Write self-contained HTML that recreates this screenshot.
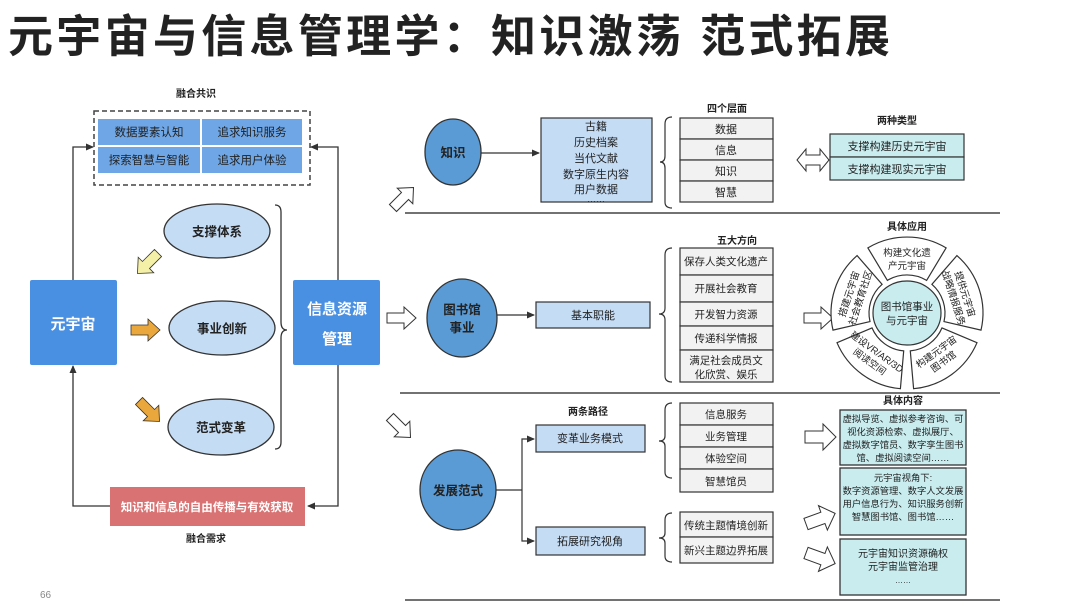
<!DOCTYPE html>
<html><head><meta charset="utf-8">
<style>
html,body{margin:0;padding:0;background:#fff;}
svg{display:block;}
text{font-family:"Liberation Sans","Noto Sans CJK SC",sans-serif;fill:#222;}
.b{font-weight:bold;}
</style></head>
<body>
<svg width="1080" height="607" viewBox="0 0 1080 607" xmlns="http://www.w3.org/2000/svg">
<defs>
<marker id="ah" markerWidth="8" markerHeight="8" refX="7" refY="4" orient="auto" markerUnits="userSpaceOnUse">
<path d="M0,0.5 L8,4 L0,7.5 Z" fill="#333"/></marker>
</defs>

<text x="8" y="52" font-size="45" class="b" fill="#1a1a1a" textLength="882" lengthAdjust="spacing">元宇宙与信息管理学：知识激荡 范式拓展</text>

<text x="196" y="97" font-size="10" class="b" text-anchor="middle">融合共识</text>
<rect x="94" y="111" width="216" height="74" fill="none" stroke="#444" stroke-width="1.5" stroke-dasharray="5,3"/>
<g fill="#6fa6e6">
<rect x="98" y="119" width="102" height="26"/><rect x="202" y="119" width="100" height="26"/>
<rect x="98" y="147" width="102" height="26"/><rect x="202" y="147" width="100" height="26"/>
</g>
<g font-size="11.5" text-anchor="middle">
<text x="149" y="136">数据要素认知</text><text x="252" y="136">追求知识服务</text>
<text x="149" y="164">探索智慧与智能</text><text x="252" y="164">追求用户体验</text>
</g>

<rect x="30" y="280" width="87" height="85" rx="2" fill="#4a90e2"/>
<text x="73" y="329" font-size="15" class="b" text-anchor="middle" style="fill:#fff">元宇宙</text>
<rect x="293" y="280" width="87" height="85" rx="2" fill="#4a90e2"/>
<text x="337" y="314" font-size="15" class="b" text-anchor="middle" style="fill:#fff">信息资源</text>
<text x="337" y="344" font-size="15" class="b" text-anchor="middle" style="fill:#fff">管理</text>

<g stroke="#333" stroke-width="1.3" fill="none">
<polyline points="73,280 73,147 93,147" marker-end="url(#ah)"/>
<polyline points="338,280 338,147 311,147" marker-end="url(#ah)"/>
<polyline points="338,365 338,506 308,506" marker-end="url(#ah)"/>
<polyline points="110,506 73,506 73,366" marker-end="url(#ah)"/>
<path d="M275,205 Q281,205 281,212 L281,322 Q281,330 287,330 Q281,330 281,338 L281,442 Q281,449 275,449"/>
</g>

<rect x="110" y="487" width="195" height="39" fill="#d97373"/>
<text x="207" y="511" font-size="11.5" class="b" text-anchor="middle" style="fill:#fff">知识和信息的自由传播与有效获取</text>
<text x="206" y="542" font-size="10" class="b" text-anchor="middle">融合需求</text>

<g fill="#c5dcf5" stroke="#333" stroke-width="1.3">
<ellipse cx="217" cy="231" rx="53" ry="27"/>
<ellipse cx="222" cy="328" rx="53" ry="27"/>
<ellipse cx="221" cy="427" rx="53" ry="28"/>
</g>
<g font-size="12.5" text-anchor="middle" class="b">
<text x="217" y="236">支撑体系</text><text x="222" y="333">事业创新</text><text x="221" y="432">范式变革</text>
</g>

<g stroke="#333" stroke-width="0.8">
<path d="M0,-5 L17,-5 L17,-11 L29,0 L17,11 L17,5 L0,5 Z" fill="#f5f0a8" transform="translate(158,253) rotate(135)"/>
<path d="M0,-5 L17,-5 L17,-11 L29,0 L17,11 L17,5 L0,5 Z" fill="#eaa73c" transform="translate(131,330)"/>
<path d="M0,-5 L17,-5 L17,-11 L29,0 L17,11 L17,5 L0,5 Z" fill="#eaa73c" transform="translate(139,401) rotate(45)"/>
</g>

<text x="40" y="598" font-size="10" style="fill:#888">66</text>

<g fill="#fff" stroke="#333" stroke-width="1">
<path d="M0,-5 L17,-5 L17,-11 L29,0 L17,11 L17,5 L0,5 Z" transform="translate(393,208) rotate(-45)"/>
<path d="M0,-5 L17,-5 L17,-11 L29,0 L17,11 L17,5 L0,5 Z" transform="translate(387,318)"/>
<path d="M0,-5 L17,-5 L17,-11 L29,0 L17,11 L17,5 L0,5 Z" transform="translate(390,417) rotate(45)"/>
<path d="M-16,0 L-7,-11 L-7,-5 L7,-5 L7,-11 L16,0 L7,11 L7,5 L-7,5 L-7,11 Z" transform="translate(813,160)"/>
<path d="M0,-5 L17,-5 L17,-11 L29,0 L17,11 L17,5 L0,5 Z" transform="translate(804,318)"/>
<path d="M0,-6 L18,-6 L18,-13 L31,0 L18,13 L18,6 L0,6 Z" transform="translate(805,437)"/>
<path d="M0,-6 L18,-6 L18,-13 L31,0 L18,13 L18,6 L0,6 Z" transform="translate(806,524) rotate(-20)"/>
<path d="M0,-6 L18,-6 L18,-13 L31,0 L18,13 L18,6 L0,6 Z" transform="translate(806,553) rotate(20)"/>
</g>

<g stroke="#444" stroke-width="1.6">
<line x1="405" y1="213" x2="1000" y2="213"/>
<line x1="400" y1="393" x2="1000" y2="393"/>
<line x1="405" y1="600" x2="1000" y2="600"/>
</g>

<ellipse cx="453" cy="152" rx="28" ry="33" fill="#5b9bd5" stroke="#333" stroke-width="1.3"/>
<text x="453" y="157" font-size="12.5" class="b" text-anchor="middle">知识</text>
<line x1="481" y1="153" x2="539" y2="153" stroke="#333" stroke-width="1.2" marker-end="url(#ah)"/>
<rect x="541" y="118" width="111" height="84" fill="#c5dcf5" stroke="#333" stroke-width="1.2"/>
<g font-size="11" text-anchor="middle">
<text x="596" y="130">古籍</text><text x="596" y="146">历史档案</text><text x="596" y="162">当代文献</text>
<text x="596" y="178">数字原生内容</text><text x="596" y="193">用户数据</text><text x="596" y="202" font-size="9">……</text>
</g>
<path d="M672,117 Q665,117 665,124 L665,156 Q665,162 660,162 Q665,162 665,168 L665,202 Q665,208 672,208" fill="none" stroke="#333" stroke-width="1.2"/>
<text x="727" y="112" font-size="10" class="b" text-anchor="middle">四个层面</text>
<g fill="#f2f2f2" stroke="#333" stroke-width="1.2">
<rect x="680" y="118" width="93" height="21"/><rect x="680" y="139" width="93" height="21"/>
<rect x="680" y="160" width="93" height="21"/><rect x="680" y="181" width="93" height="21"/>
</g>
<g font-size="11" text-anchor="middle">
<text x="726" y="133">数据</text><text x="726" y="154">信息</text><text x="726" y="175">知识</text><text x="726" y="196">智慧</text>
</g>
<text x="897" y="124" font-size="10" class="b" text-anchor="middle">两种类型</text>
<g fill="#c9ecef" stroke="#333" stroke-width="1.2">
<rect x="830" y="134" width="134" height="23"/><rect x="830" y="157" width="134" height="23"/>
</g>
<g font-size="11" text-anchor="middle">
<text x="897" y="150">支撑构建历史元宇宙</text><text x="897" y="173">支撑构建现实元宇宙</text>
</g>

<ellipse cx="462" cy="318" rx="35" ry="39" fill="#5b9bd5" stroke="#333" stroke-width="1.3"/>
<text x="462" y="314" font-size="12.5" class="b" text-anchor="middle">图书馆</text>
<text x="462" y="332" font-size="12.5" class="b" text-anchor="middle">事业</text>
<line x1="497" y1="315" x2="534" y2="315" stroke="#333" stroke-width="1.2" marker-end="url(#ah)"/>
<rect x="536" y="302" width="114" height="26" fill="#c5dcf5" stroke="#333" stroke-width="1.2"/>
<text x="593" y="319" font-size="11" text-anchor="middle">基本职能</text>
<path d="M672,248 Q665,248 665,255 L665,308 Q665,314 659,314 Q665,314 665,320 L665,376 Q665,382 672,382" fill="none" stroke="#333" stroke-width="1.2"/>
<text x="737" y="244" font-size="10" class="b" text-anchor="middle">五大方向</text>
<g fill="#f2f2f2" stroke="#333" stroke-width="1.2">
<rect x="680" y="248" width="93" height="27"/><rect x="680" y="275" width="93" height="27"/>
<rect x="680" y="302" width="93" height="24"/><rect x="680" y="326" width="93" height="24"/>
<rect x="680" y="350" width="93" height="32"/>
</g>
<g font-size="10.5" text-anchor="middle">
<text x="726" y="265">保存人类文化遗产</text><text x="726" y="292">开展社会教育</text>
<text x="726" y="318">开发智力资源</text><text x="726" y="342">传递科学情报</text>
<text x="726" y="364">满足社会成员文</text><text x="726" y="378">化欣赏、娱乐</text>
</g>
<text x="907" y="230" font-size="10" class="b" text-anchor="middle">具体应用</text>
<g fill="#fff" stroke="#333" stroke-width="1.2">
<path d="M867.9,247.9 A76,76 0 0,1 946.1,247.9 L926.6,280.4 A38,38 0 0,0 887.4,280.4 Z"/>
<path d="M956.9,255.6 A76,76 0 0,1 981.0,330.1 L944.0,321.6 A38,38 0 0,0 931.9,284.3 Z"/>
<path d="M977.0,342.7 A76,76 0 0,1 913.6,388.7 L910.3,350.9 A38,38 0 0,0 942.0,327.9 Z"/>
<path d="M900.4,388.7 A76,76 0 0,1 837.0,342.7 L872.0,327.9 A38,38 0 0,0 903.7,350.9 Z"/>
<path d="M833.0,330.1 A76,76 0 0,1 857.1,255.6 L882.1,284.3 A38,38 0 0,0 870.0,321.6 Z"/>
</g>
<ellipse cx="907" cy="313" rx="34" ry="32" fill="#c9ecef" stroke="#333" stroke-width="1.2"/>
<text x="907" y="310" font-size="10.5" text-anchor="middle">图书馆事业</text>
<text x="907" y="324" font-size="10.5" text-anchor="middle">与元宇宙</text>
<g font-size="9.5" text-anchor="middle">
<text x="907" y="256">构建文化遗</text><text x="907" y="269">产元宇宙</text>
<g transform="translate(959,296) rotate(72)"><text x="0" y="-3">提供元宇宙</text><text x="0" y="9">战略情报服务</text></g>
<g transform="translate(940,357) rotate(-36)"><text x="0" y="-3">构建元宇宙</text><text x="0" y="9">图书馆</text></g>
<g transform="translate(873,357) rotate(36)"><text x="0" y="-3">建设VR/AR/3D</text><text x="0" y="9">阅读空间</text></g>
<g transform="translate(855,296) rotate(-72)"><text x="0" y="-3">搭建元宇宙</text><text x="0" y="9">社会教育社区</text></g>
</g>

<ellipse cx="458" cy="490" rx="38" ry="40" fill="#5b9bd5" stroke="#333" stroke-width="1.3"/>
<text x="458" y="495" font-size="12.5" class="b" text-anchor="middle">发展范式</text>
<g stroke="#333" stroke-width="1.2" fill="none">
<line x1="496" y1="490" x2="522" y2="490"/>
<polyline points="522,490 522,439 534,439" marker-end="url(#ah)"/>
<polyline points="522,490 522,541 534,541" marker-end="url(#ah)"/>
</g>
<text x="588" y="415" font-size="10" class="b" text-anchor="middle">两条路径</text>
<rect x="536" y="425" width="109" height="27" fill="#c5dcf5" stroke="#333" stroke-width="1.2"/>
<text x="590" y="442" font-size="11" text-anchor="middle">变革业务模式</text>
<rect x="536" y="527" width="109" height="28" fill="#c5dcf5" stroke="#333" stroke-width="1.2"/>
<text x="590" y="545" font-size="11" text-anchor="middle">拓展研究视角</text>
<path d="M672,403 Q665,403 665,410 L665,436 Q665,441 659,441 Q665,441 665,446 L665,472 Q665,478 672,478" fill="none" stroke="#333" stroke-width="1.2"/>
<g fill="#f2f2f2" stroke="#333" stroke-width="1.2">
<rect x="680" y="403" width="93" height="22"/><rect x="680" y="425" width="93" height="22"/>
<rect x="680" y="447" width="93" height="22"/><rect x="680" y="469" width="93" height="23"/>
<rect x="680" y="512" width="93" height="25"/><rect x="680" y="537" width="93" height="26"/>
</g>
<g font-size="10.5" text-anchor="middle">
<text x="726" y="418">信息服务</text><text x="726" y="440">业务管理</text>
<text x="726" y="462">体验空间</text><text x="726" y="485">智慧馆员</text>
<text x="726" y="529">传统主题情境创新</text><text x="726" y="554">新兴主题边界拓展</text>
</g>
<path d="M672,513 Q665,513 665,520 L665,533 Q665,538 659,538 Q665,538 665,543 L665,556 Q665,562 672,562" fill="none" stroke="#333" stroke-width="1.2"/>
<text x="903" y="404" font-size="10" class="b" text-anchor="middle">具体内容</text>
<g fill="#c9ecef" stroke="#333" stroke-width="1.3">
<rect x="840" y="410" width="126" height="55"/>
<rect x="840" y="468" width="126" height="67"/>
<rect x="840" y="539" width="126" height="56"/>
</g>
<g font-size="9.3" text-anchor="middle">
<text x="903" y="422">虚拟导览、虚拟参考咨询、可</text>
<text x="903" y="435">视化资源检索、虚拟展厅、</text>
<text x="903" y="448">虚拟数字馆员、数字孪生图书</text>
<text x="903" y="461">馆、虚拟阅读空间……</text>
<text x="903" y="481">元宇宙视角下:</text>
<text x="903" y="494">数字资源管理、数字人文发展</text>
<text x="903" y="507">用户信息行为、知识服务创新</text>
<text x="903" y="520">智慧图书馆、图书馆……</text>
<text x="903" y="557" font-size="10">元宇宙知识资源确权</text>
<text x="903" y="570" font-size="10">元宇宙监管治理</text>
<text x="903" y="583" font-size="8">……</text>
</g>
</svg>
</body></html>
